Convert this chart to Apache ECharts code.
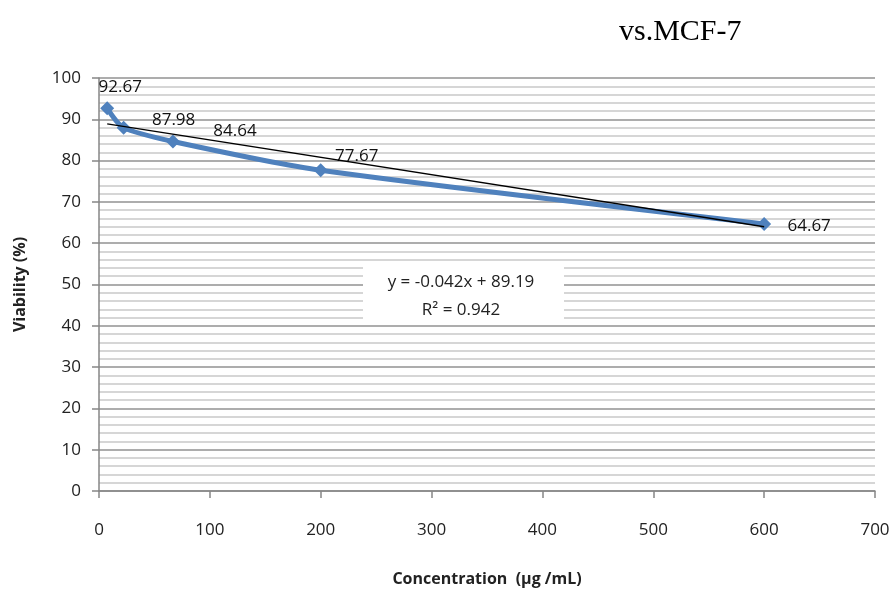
<!DOCTYPE html>
<html>
<head>
<meta charset="utf-8">
<script src="https://cdn.jsdelivr.net/npm/echarts@6/dist/echarts.min.js"></script>
<style>
  html, body { margin: 0; padding: 0; background: #fff; }
  #chart { width: 893px; height: 590px; }
</style>
</head>
<body>
<div id="chart"></div>
<script>
// Concentrations tested (µg/mL) and measured cell viability (%)
const concentrations = [7.4, 22.2, 66.7, 200, 600];
const viability = [92.67, 87.98, 84.64, 77.67, 64.67];

// Linear trendline reported on the chart
const trendSlope = -0.042;
const trendIntercept = 89.19;
const trendR2 = 0.942;

// Label nudges (px) so the value labels sit beside their markers
const labelOffsets = [[13, -21], [50, -7], [62, -10], [36, -14], [45, 2]];

const tickFont = 'Open Sans, Noto Sans, sans-serif';

const pointData = concentrations.map((c, i) => ({
  value: [c, viability[i]],
  label: { offset: labelOffsets[i] }
}));

const xFirst = concentrations[0];
const xLast = concentrations[concentrations.length - 1];
const trendData = [
  [xFirst, trendIntercept + trendSlope * xFirst],
  [xLast, trendIntercept + trendSlope * xLast]
];

const chart = echarts.init(document.getElementById('chart'), null, { renderer: 'canvas' });

chart.setOption({
  animation: false,
  backgroundColor: '#ffffff',
  title: {
    text: 'vs.MCF-7',
    left: 614,
    top: 12,
    textStyle: {
      fontFamily: 'Liberation Serif, Times New Roman, serif',
      fontSize: 30,
      fontWeight: 'normal',
      color: '#000'
    }
  },
  grid: { left: 99, right: 18, top: 78, bottom: 99, containLabel: false, outerBoundsMode: 'none' },
  xAxis: {
    type: 'value',
    min: 0,
    max: 700,
    interval: 100,
    name: 'Concentration  (µg /mL)',
    nameLocation: 'middle',
    nameGap: 80,
    nameTextStyle: { fontFamily: tickFont, fontSize: 16, fontWeight: 'bold', color: '#222' },
    axisLine: { show: true, lineStyle: { color: '#868686', width: 1.5 } },
    axisTick: { show: true, length: 7, lineStyle: { color: '#868686', width: 1.5 } },
    axisLabel: { fontFamily: tickFont, fontSize: 17, color: '#222', margin: 31 },
    splitLine: { show: false }
  },
  yAxis: {
    type: 'value',
    min: 0,
    max: 100,
    interval: 10,
    name: 'Viability (%)',
    nameLocation: 'middle',
    nameGap: 71,
    nameRotate: 90,
    nameTextStyle: { fontFamily: tickFont, fontSize: 16, fontWeight: 'bold', color: '#222' },
    axisLine: { show: true, lineStyle: { color: '#868686', width: 1.5 } },
    axisTick: { show: true, length: 7, lineStyle: { color: '#868686', width: 1.5 } },
    axisLabel: { fontFamily: tickFont, fontSize: 17, color: '#222', margin: 18 },
    splitLine: { show: true, lineStyle: { color: '#929292', width: 1.5 } },
    minorTick: { show: false, splitNumber: 5 },
    minorSplitLine: { show: true, lineStyle: { color: '#c8c8c8', width: 1.6 } }
  },
  series: [
    {
      name: 'Viability',
      type: 'line',
      data: pointData,
      smooth: 0.25,
      symbol: 'diamond',
      symbolSize: 14,
      lineStyle: { color: '#4F81BD', width: 5 },
      itemStyle: { color: '#4F81BD' },
      label: {
        show: true,
        position: 'inside',
        formatter: p => p.value[1].toFixed(2),
        fontFamily: tickFont,
        fontSize: 17,
        color: '#111'
      },
      z: 3
    },
    {
      name: 'Linear trend',
      type: 'line',
      data: trendData,
      symbol: 'none',
      lineStyle: { color: '#000', width: 1.4 },
      z: 4,
      silent: true
    }
  ],
  graphic: [
    {
      type: 'rect',
      shape: { x: 363, y: 262, width: 201, height: 60 },
      style: { fill: '#ffffff' },
      z: 10
    },
    {
      type: 'text',
      x: 461,
      y: 282,
      style: {
        text: 'y = -0.042x + 89.19',
        fontFamily: tickFont,
        fontSize: 17,
        fill: '#222',
        align: 'center',
        verticalAlign: 'middle'
      },
      z: 11
    },
    {
      type: 'text',
      x: 461,
      y: 310,
      style: {
        text: 'R² = ' + trendR2,
        fontFamily: tickFont,
        fontSize: 17,
        fill: '#222',
        align: 'center',
        verticalAlign: 'middle'
      },
      z: 11
    }
  ]
});
</script>
</body>
</html>
